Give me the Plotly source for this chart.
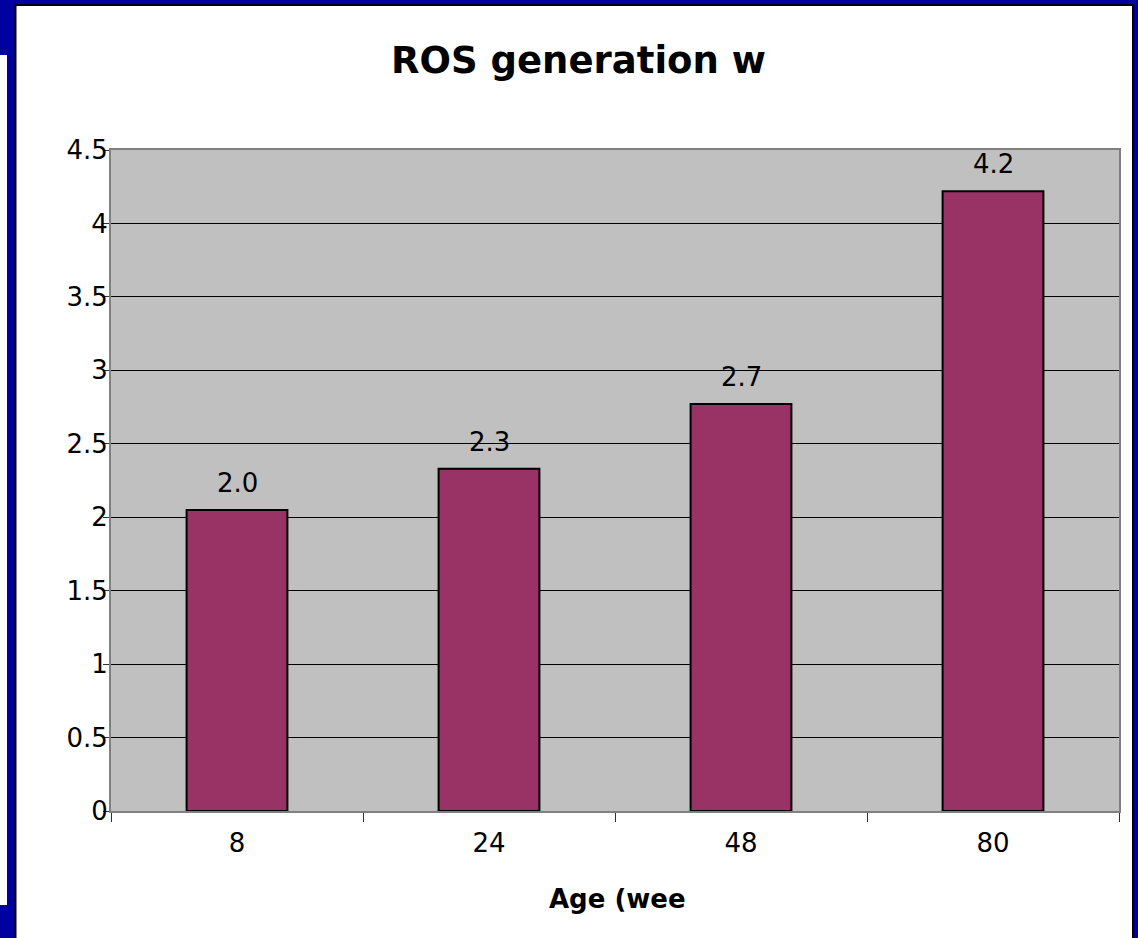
import math
import plotly.graph_objects as go

# Mean ROS generation by age group
ages = ["8", "24", "48", "80"]
ros_values = [2.05, 2.33, 2.77, 4.22]
y_ticks = [0, 0.5, 1, 1.5, 2, 2.5, 3, 3.5, 4, 4.5]
y_tick_text = ["0", "0.5", "1", "1.5", "2", "2.5", "3", "3.5", "4", "4.5"]

# data labels show one decimal, truncated
bar_labels = [f"{math.floor(v * 10) / 10:.1f}" for v in ros_values]

W, H = 1138, 938
L, R, T, B = 111, 1119, 150, 811  # plot area in pixels


def px_x(p):
    return (p - L) / (R - L)


def px_y(p):
    return (B - p) / (B - T)


FONT = "DejaVu Sans"
NAVY = "#0000A0"

fig = go.Figure(
    go.Bar(
        x=ages,
        y=ros_values,
        marker=dict(color="#993366", line=dict(color="black", width=2)),
        width=0.4,
        hoverinfo="x+y",
    )
)

shapes = [
    # white slide panel with black edge
    dict(type="rect", xref="paper", yref="paper", layer="below",
         x0=px_x(15.5), x1=px_x(1133), y0=px_y(960), y1=px_y(5),
         fillcolor="white", line=dict(color="black", width=2)),
    # thin white strip at the far left
    dict(type="rect", xref="paper", yref="paper", layer="below",
         x0=px_x(-1), x1=px_x(7), y0=px_y(905), y1=px_y(55),
         fillcolor="white", line=dict(width=0)),
    # grey plot area
    dict(type="rect", xref="paper", yref="paper", layer="below",
         x0=0, x1=1, y0=0, y1=1,
         fillcolor="#C0C0C0", line=dict(width=0)),
]

annotations = [
    dict(text="<b>ROS generation w</b>", xref="paper", yref="paper",
         x=px_x(389), y=px_y(60), xanchor="left", yanchor="middle",
         showarrow=False, font=dict(family=FONT, size=37, color="black")),
    dict(text="<b>Age (wee</b>", xref="paper", yref="paper",
         x=px_x(547), y=px_y(899), xanchor="left", yanchor="middle",
         showarrow=False, font=dict(family=FONT, size=26, color="black")),
]

# value labels above each bar (category position given by index)
for i, (val, lab) in enumerate(zip(ros_values, bar_labels)):
    annotations.append(
        dict(text=lab, x=i, y=val, xref="x", yref="y",
             xanchor="center", yanchor="bottom", yshift=10,
             showarrow=False, font=dict(family=FONT, size=26, color="black"))
    )

fig.update_layout(
    width=W, height=H,
    margin=dict(l=L, r=W - R, t=T, b=H - B, pad=0),
    paper_bgcolor=NAVY,
    plot_bgcolor="#C0C0C0",
    showlegend=False,
    shapes=shapes,
    annotations=annotations,
    font=dict(family=FONT, size=26, color="black"),
)

fig.update_xaxes(
    type="category",
    categoryorder="array", categoryarray=ages,
    range=[-0.5, len(ages) - 0.5],
    tickson="boundaries",
    ticks="outside", ticklen=9, tickcolor="#303030", tickwidth=1,
    showgrid=False,
    showline=True, linecolor="#808080", linewidth=2, mirror=True,
    tickfont=dict(family=FONT, size=26, color="black"),
    ticklabelstandoff=8,
)

fig.update_yaxes(
    range=[0, 4.5],
    tickvals=y_ticks, ticktext=y_tick_text,
    ticks="outside", ticklen=6, tickcolor="#303030", tickwidth=1,
    showgrid=True, gridcolor="black", gridwidth=1,
    showline=True, linecolor="#808080", linewidth=2, mirror=True,
    zeroline=False,
    tickfont=dict(family=FONT, size=26, color="black"),
    ticklabelstandoff=-10,
)

fig.write_html("out.html")
